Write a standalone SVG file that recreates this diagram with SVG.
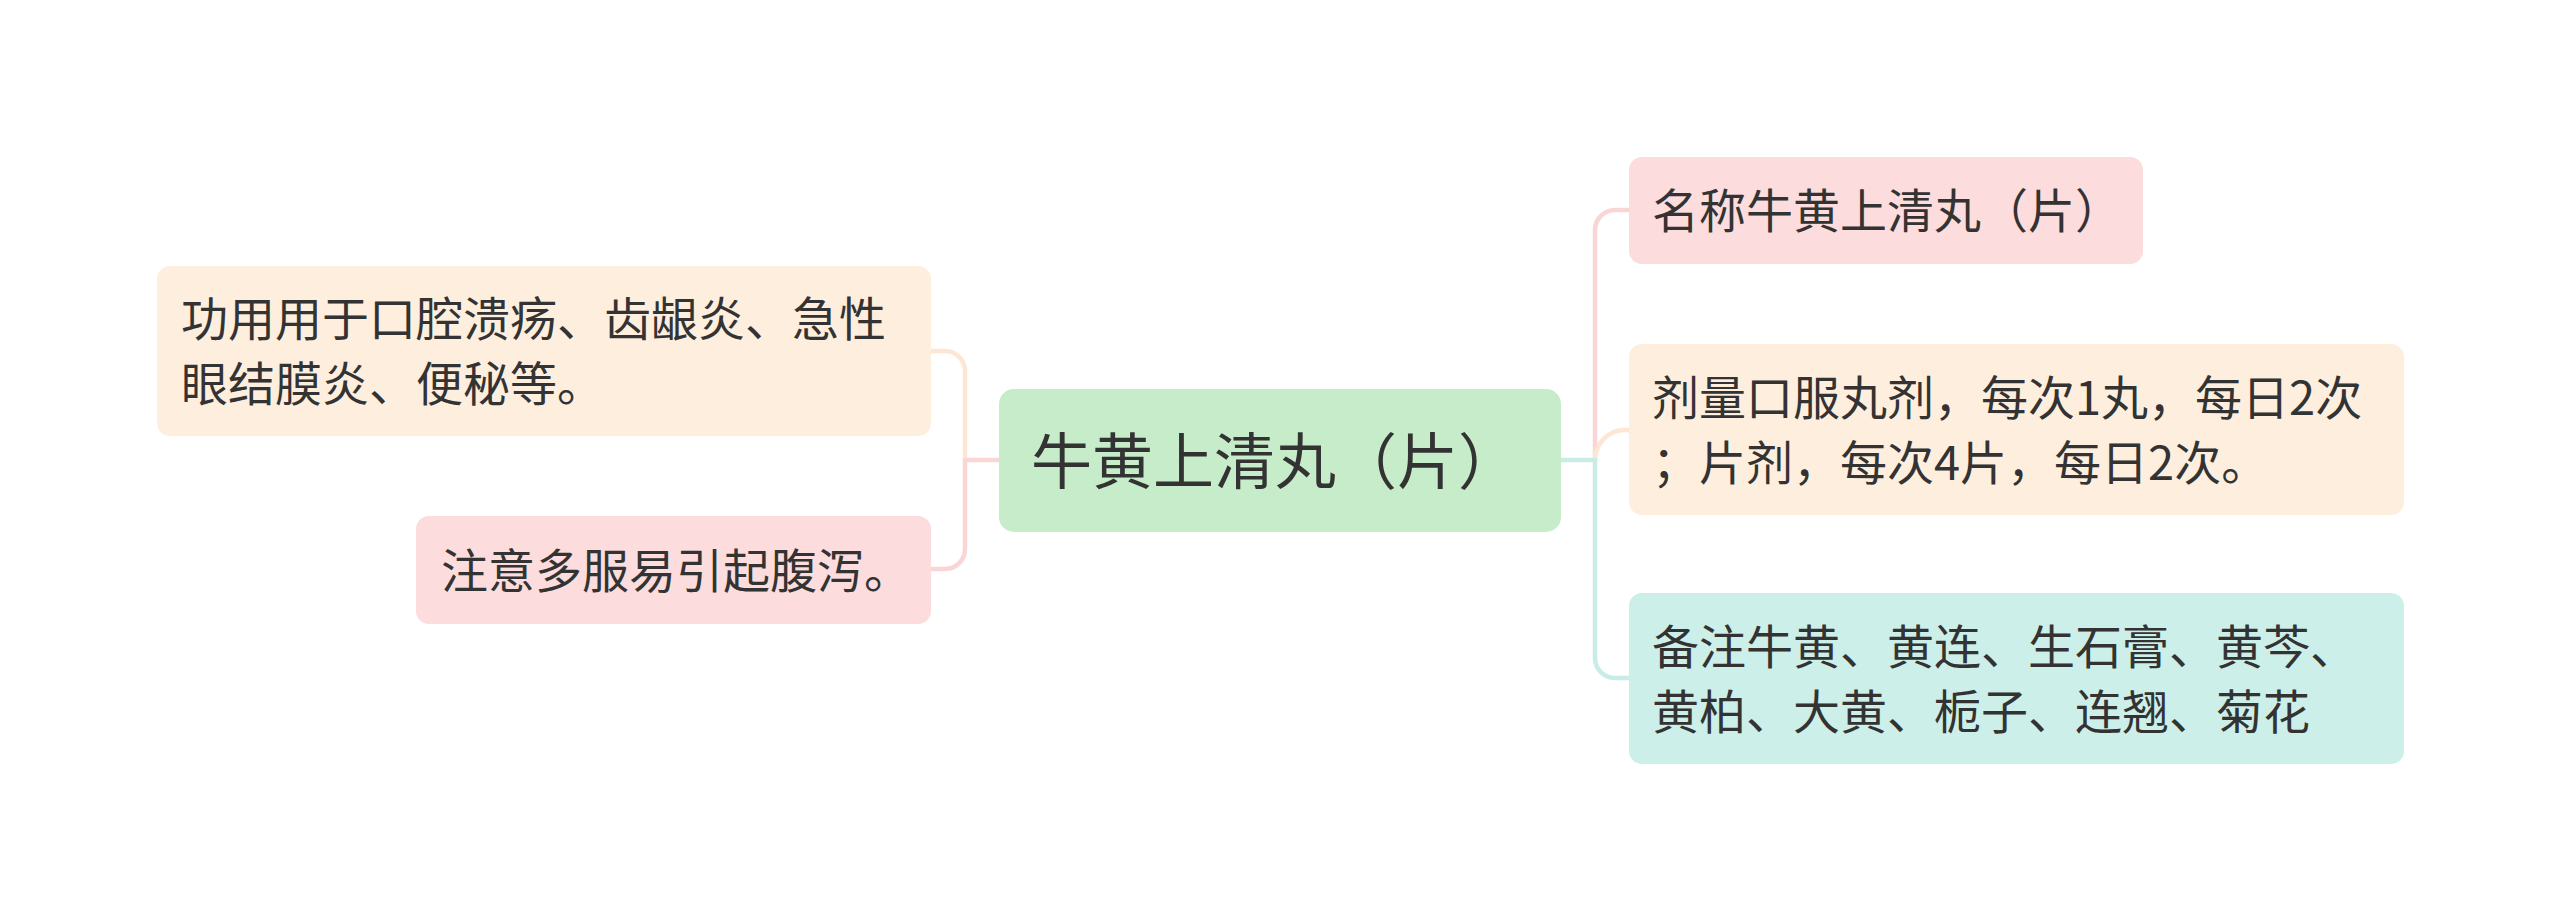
<svg xmlns="http://www.w3.org/2000/svg" width="2560" height="921" viewBox="0 0 2560 921">
<style>
text{font-family:"Noto Sans CJK SC","Noto Sans",sans-serif;fill:#333333;}
.t{font-size:47px;}
.c{font-size:61px;}
.ln{fill:none;stroke-width:4.5;stroke-linecap:round;stroke-linejoin:round;}
.pk{stroke:#fad5d5;}
.pc{stroke:#fde6d3;}
.tl{stroke:#c9ece6;}
</style>
<rect width="2560" height="921" fill="#ffffff"/>
<g id="connectors">
<path class="ln pc" d="M965,460 V371 A20,20 0 0 0 945,351 H931"/>
<path class="ln pk" d="M999,460 H965 V549 A20,20 0 0 1 945,569 H931"/>
<path class="ln pk" d="M1595,460 V230 A20,20 0 0 1 1615,210 H1629"/>
<path class="ln pc" d="M1595,460 A30,30 0 0 1 1625,430 H1629"/>
<path class="ln tl" d="M1561,460 H1595 V658 A20,20 0 0 0 1615,678 H1629"/>
</g>
<g id="center">
<rect x="999" y="389" width="562" height="143" rx="15" fill="#c6ecca"/>
<text class="c" x="1031" y="483.5">牛黄上清丸（片）</text>
</g>
<g id="node-gongyong">
<rect x="157" y="266" width="774" height="170" rx="13" fill="#feeede"/>
<text class="t" x="181" y="336">功用用于口腔溃疡、齿龈炎、急性</text>
<text class="t" x="181" y="401">眼结膜炎、便秘等。</text>
</g>
<g id="node-zhuyi">
<rect x="416" y="516" width="515" height="108" rx="13" fill="#fcdcdc"/>
<text class="t" x="441" y="588">注意多服易引起腹泻。</text>
</g>
<g id="node-mingcheng">
<rect x="1629" y="157" width="514" height="107" rx="13" fill="#fcdcdc"/>
<text class="t" x="1652" y="228">名称牛黄上清丸（片）</text>
</g>
<g id="node-jiliang">
<rect x="1629" y="344" width="775" height="171" rx="13" fill="#feeede"/>
<text class="t" x="1652" y="415">剂量口服丸剂，每次1丸，每日2次</text>
<text class="t" x="1652" y="480">；片剂，每次4片，每日2次。</text>
</g>
<g id="node-beizhu">
<rect x="1629" y="593" width="775" height="171" rx="13" fill="#cdefe9"/>
<text class="t" x="1652" y="664">备注牛黄、黄连、生石膏、黄芩、</text>
<text class="t" x="1652" y="729">黄柏、大黄、栀子、连翘、菊花</text>
</g>
</svg>
